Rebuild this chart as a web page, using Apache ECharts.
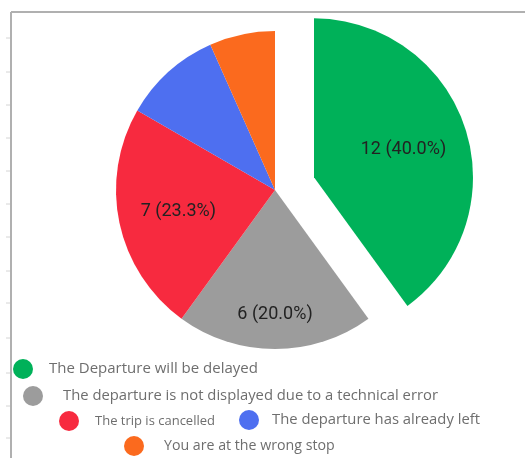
<!DOCTYPE html>
<html>
<head>
<meta charset="utf-8">
<script src="https://cdn.jsdelivr.net/npm/echarts@6/dist/echarts.min.js"></script>
<style>
  html, body { margin: 0; padding: 0; background: #fff; }
  #main { width: 525px; height: 458px; }
</style>
</head>
<body>
<div id="main"></div>
<script>
    // 数据
    const reasons = [
        'The Departure will be delayed',
        'The departure is not displayed due to a technical error',
        'The trip is cancelled',
        'The departure has already left',
        'You are at the wrong stop'
    ];
    const counts = [12, 6, 7, 3, 2];
    const colors = ['#00b159', '#9c9c9c', '#f72a3f', '#4e6ff0', '#fb6a1e'];

    // 标签微调 / 图例位置
    const labelOffsets = [[11, -2], [0, 42], [-16, 4], [0, 0], [0, 0]];
    const legendPos = [
        { left: 13, top: 359, size: 15, pad: 11 },
        { left: 23, top: 386, size: 14.8, pad: 15 },
        { left: 59, top: 411, size: 13, pad: 11 },
        { left: 239, top: 410, size: 14.8, pad: 8 },
        { left: 124, top: 436, size: 14.2, pad: 15 }
    ];

    const total = counts.reduce((a, b) => a + b, 0);

    let chart = echarts.init(document.getElementById('main'));

    // 左侧刻度
    let frame = [
        { type: 'line', shape: { x1: 11, y1: 12, x2: 11, y2: 458 }, style: { stroke: '#b0b0b0', lineWidth: 2 } },
        { type: 'line', shape: { x1: 11, y1: 12, x2: 525, y2: 12 }, style: { stroke: '#b0b0b0', lineWidth: 2 } }
    ];
    [38, 72, 105, 138, 171, 204, 237, 271, 303, 338, 373, 406, 438].forEach(function(y) {
        frame.push({ type: 'line', shape: { x1: 6, y1: y, x2: 10, y2: y }, style: { stroke: '#d4d4d4', lineWidth: 1 } });
    });

    chart.setOption({
        backgroundColor: '#fff',
        animation: false,
        color: colors,
        graphic: frame,
        legend: legendPos.map(function(p, i) {
            return {
                left: p.left,
                top: p.top,
                orient: 'horizontal',
                selectedMode: false,
                icon: 'circle',
                itemWidth: 20,
                itemHeight: 20,
                padding: 0,
                textStyle: {
                    fontFamily: 'Open Sans',
                    fontSize: p.size,
                    color: '#6e6e6e',
                    padding: [0, 0, 0, p.pad]
                },
                data: [reasons[i]]
            };
        }),
        series: [{
            type: 'pie',
            center: [275, 190],
            radius: [0, 159],
            startAngle: 90,
            clockwise: true,
            selectedMode: 'single',
            selectedOffset: 41,
            avoidLabelOverlap: false,
            label: {
                show: true,
                position: 'inside',
                fontFamily: 'Roboto',
                fontSize: 18,
                color: '#222',
                formatter: function(p) {
                    return p.value + ' (' + (p.value / total * 100).toFixed(1) + '%)';
                }
            },
            labelLine: { show: false },
            itemStyle: { borderWidth: 0 },
            emphasis: { disabled: true },
            data: reasons.map(function(name, i) {
                return {
                    name: name,
                    value: counts[i],
                    selected: i === 0,
                    label: { offset: labelOffsets[i], show: i < 3 },
                    select: { label: { offset: labelOffsets[i], show: i < 3 } }
                };
            })
        }]
    });
</script>
</body>
</html>
